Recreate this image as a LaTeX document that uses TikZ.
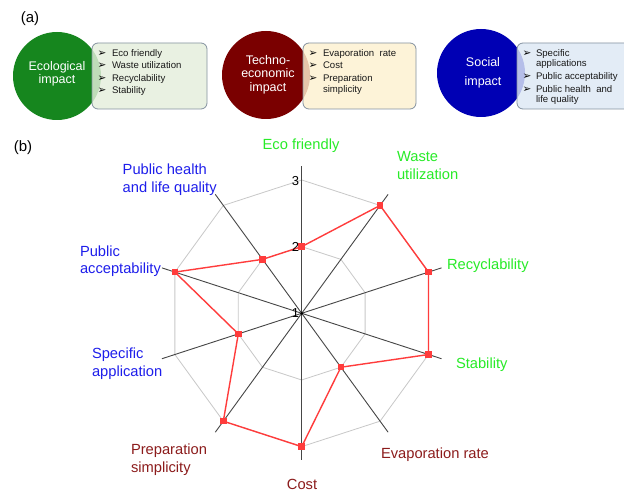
\documentclass[tikz,border=0pt]{standalone}
\usepackage{fontspec}
\setmainfont{Liberation Sans}
\newfontfamily\dejavu{DejaVu Sans}
\definecolor{ecogreen}{RGB}{22,134,30}
\definecolor{techred}{RGB}{122,0,0}
\definecolor{socblue}{RGB}{0,0,180}
\definecolor{boxgreen}{RGB}{229,239,220}
\definecolor{boxyellow}{RGB}{253,241,208}
\definecolor{boxblue}{RGB}{221,233,245}
\definecolor{boxedge}{RGB}{132,146,160}
\definecolor{lblgreen}{RGB}{40,235,40}
\definecolor{lblblue}{RGB}{30,30,235}
\definecolor{lblred}{RGB}{140,28,28}
\definecolor{axisgray}{RGB}{70,70,70}
\definecolor{gridgray}{RGB}{200,200,200}
\definecolor{datared}{RGB}{255,60,60}
\begin{document}
\begin{tikzpicture}[x=1pt,y=-1pt,
  every node/.style={inner sep=0pt,outer sep=0pt},
  circ/.style={circle,minimum size=88pt},
  ctext/.style={text=white,align=center,font=\fontsize{12.5}{13}\selectfont},
  infobox/.style={draw=boxedge,line width=0.8pt,rounded corners=6pt,fill opacity=0.82,text opacity=1},
  bul/.style={anchor=base,font=\dejavu\fontsize{10.5}{11}\selectfont,text=black},
  itm/.style={anchor=base west,font=\fontsize{9.6}{11}\selectfont,text=black!90},
  lbl/.style={font=\fontsize{14.7}{17.5}\selectfont},
  tick/.style={anchor=base east,font=\fontsize{13}{15}\selectfont},
  gridline/.style={draw=gridgray,line width=0.8pt},
  axisline/.style={draw=axisgray,line width=0.9pt},
  dataline/.style={draw=datared,line width=1.4pt,line join=miter},
  marker/.style={rectangle,fill=datared,minimum size=6.5pt}]
\useasboundingbox (0,0) rectangle (624,492);
\fill[white] (0,0) rectangle (624,492);

% panel labels
\node[font=\fontsize{15}{18}\selectfont] (pa) at (30,19) {(a)};
\node[font=\fontsize{15}{18}\selectfont] (pb) at (23,148) {(b)};

% ---- panel (a)
\node[circ,fill=ecogreen] (c1) at (57,76) {};
\node[circ,fill=techred] (c2) at (266,75) {};
\node[circ,fill=socblue] (c3) at (481,73) {};
\node[ctext] (t1) at (57,74) {Ecological\\impact};
\node[ctext,font=\fontsize{12.5}{13.5}\selectfont] (t2) at (268,74.5) {Techno-\\economic\\impact};
\node[ctext,font=\fontsize{12.5}{19.5}\selectfont] (t3) at (483,73) {Social\\impact};

\node[infobox,fill=boxgreen,minimum width=115pt,minimum height=66pt] (b1) at (149.5,76) {};
\node[infobox,fill=boxyellow,minimum width=113pt,minimum height=66pt] (b2) at (359.5,76) {};
\node[infobox,fill=boxblue,minimum width=115pt,minimum height=66pt] (b3) at (574.5,76) {};

% green box
\node[bul] (e1b) at (102,56.4) {➢};
\node[itm] (e1) at (112,56.4) {Eco friendly};
\node[bul] (e2b) at (102,68.6) {➢};
\node[itm] (e2) at (112,68.6) {Waste utilization};
\node[bul] (e3b) at (102,81.4) {➢};
\node[itm] (e3) at (112,81.4) {Recyclability};
\node[bul] (e4b) at (102,93.4) {➢};
\node[itm] (e4) at (112,93.4) {Stability};

% yellow box
\node[bul] (f1b) at (313,56.4) {➢};
\node[itm] (f1) at (323,56.4) {Evaporation\ \ rate};
\node[bul] (f2b) at (313,68.6) {➢};
\node[itm] (f2) at (323,68.6) {Cost};
\node[bul] (f3b) at (313,81.4) {➢};
\node[itm] (f3) at (323,81.4) {Preparation};
\node[itm] (f4) at (323,92.4) {simplicity};

% blue box
\node[bul] (s1b) at (527,56.4) {➢};
\node[itm] (s1) at (536,56.4) {Specific};
\node[itm] (s2) at (536,66.4) {applications};
\node[bul] (s3b) at (527,79.4) {➢};
\node[itm] (s3) at (536,79.4) {Public acceptability};
\node[bul] (s4b) at (527,92.4) {➢};
\node[itm] (s4) at (536,92.4) {Public health\ \ and};
\node[itm] (s5) at (536,102.4) {life quality};

% ---- panel (b) radar
\begin{scope}[shift={(301.7,313.3)},y=1pt]
  \coordinate (O) at (0,0);
  \foreach \a [count=\i] in {90,54,18,-18,-54,-90,-126,-162,162,126} {
    \coordinate (ax\i) at (\a:147);
    \coordinate (gb\i) at (\a:66.67);
    \coordinate (gc\i) at (\a:133.33);
  }
  \foreach \a/\v [count=\i] in {90/2,54/3,18/3,-18/3,-54/2,-90/3,-126/3,-162/2,162/3,126/2} {
    \coordinate (d\i) at (\a:{(\v-1)*66.67});
  }
  \draw[gridline] (gb1) -- (gb2) -- (gb3) -- (gb4) -- (gb5) -- (gb6) -- (gb7) -- (gb8) -- (gb9) -- (gb10) -- cycle;
  \draw[gridline] (gc1) -- (gc2) -- (gc3) -- (gc4) -- (gc5) -- (gc6) -- (gc7) -- (gc8) -- (gc9) -- (gc10) -- cycle;
  \foreach \i in {1,...,10} { \draw[axisline] (O) -- (ax\i); }
  \draw[dataline] (d1) -- (d2) -- (d3) -- (d4) -- (d5) -- (d6) -- (d7) -- (d8) -- (d9) -- (d10) -- cycle;
  \foreach \i in {1,...,10} { \node[marker] (m\i) at (d\i) {}; }
  \node[circle,fill=black,minimum size=3pt] (cdot) at (O) {};
\end{scope}

% tick labels
\node[tick] (k3) at (299,185.3) {3};
\node[tick] (k2) at (299,251.3) {2};
\node[tick] (k1) at (299,317.6) {1};

% axis labels
\node[lbl,text=lblgreen,anchor=base] (l1) at (301,149.3) {Eco friendly};
\node[lbl,text=lblgreen,anchor=base west] (l2a) at (397,162) {Waste};
\node[lbl,text=lblgreen,anchor=base west] (l2b) at (397,179.6) {utilization};
\node[lbl,text=lblgreen,anchor=base west] (l3) at (447,269) {Recyclability};
\node[lbl,text=lblgreen,anchor=base west] (l4) at (456,368.6) {Stability};
\node[lbl,text=lblred,anchor=base west] (l5) at (381,458) {Evaporation rate};
\node[lbl,text=lblred,anchor=base] (l6) at (302,489.3) {Cost};
\node[lbl,text=lblred,anchor=base west] (l7a) at (131,454.6) {Preparation};
\node[lbl,text=lblred,anchor=base west] (l7b) at (131,472) {simplicity};
\node[lbl,text=lblblue,anchor=base west] (l8a) at (92,358.6) {Specific};
\node[lbl,text=lblblue,anchor=base west] (l8b) at (92,376.3) {application};
\node[lbl,text=lblblue,anchor=base west] (l9a) at (80,256) {Public};
\node[lbl,text=lblblue,anchor=base west] (l9b) at (80,273.5) {acceptability};
\node[lbl,text=lblblue,anchor=base west] (l10a) at (122.7,174.3) {Public health};
\node[lbl,text=lblblue,anchor=base west] (l10b) at (122.7,192.6) {and life quality};
\end{tikzpicture}
\end{document}
